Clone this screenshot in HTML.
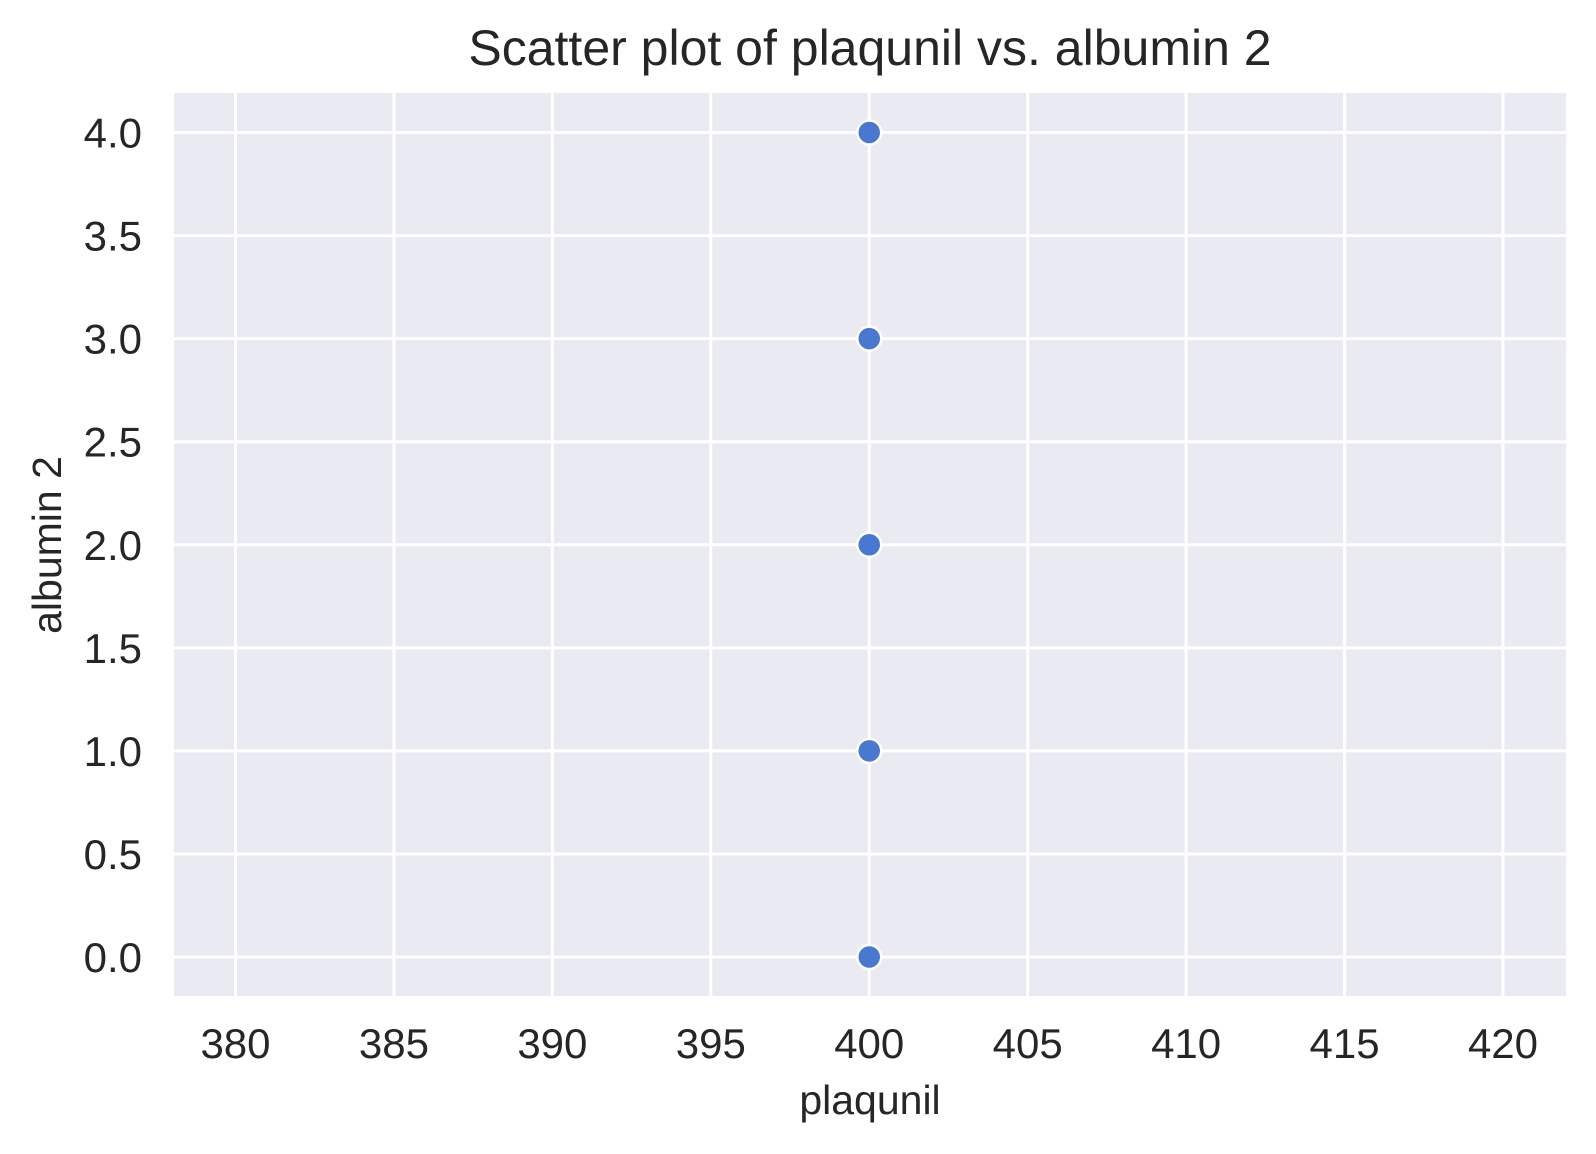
<!DOCTYPE html>
<html><head><meta charset="utf-8"><style>
html,body{margin:0;padding:0;background:#fff;}
svg text{font-family:"Liberation Sans",Arial,sans-serif;fill:#262626;}
</style></head><body>
<svg id="chart" width="1596" height="1149" viewBox="0 0 1596 1149">
<rect x="174" y="93" width="1392" height="903" fill="#eaeaf2"/>
<g id="grid"></g>
<g id="xt"></g>
<g id="yt"></g>
<g id="pts"></g>
<text x="870" y="65" text-anchor="middle" font-size="50">Scatter plot of plaqunil vs. albumin 2</text>
<text x="870" y="1114" text-anchor="middle" font-size="41">plaqunil</text>
<text transform="translate(61,545) rotate(-90)" text-anchor="middle" font-size="41">albumin 2</text>
</svg>
<script>
const xTicks=[380,385,390,395,400,405,410,415,420];
const yTicks=[0,0.5,1,1.5,2,2.5,3,3.5,4];
const yTickLabels=["0.0","0.5","1.0","1.5","2.0","2.5","3.0","3.5","4.0"];
const xVals=[400,400,400,400,400];
const yVals=[4,3,2,1,0];
const NS="http://www.w3.org/2000/svg";
function sx(v){return 235.5+(v-380)*(1503-235.5)/40;}
function sy(v){return 957-v*(957-132.5)/4;}
function mk(t,a,p){const e=document.createElementNS(NS,t);for(const k in a)e.setAttribute(k,a[k]);p.appendChild(e);return e;}
const g=document.getElementById('grid'),xt=document.getElementById('xt'),yt=document.getElementById('yt'),pts=document.getElementById('pts');
xTicks.forEach(v=>{const l=mk('line',{x1:sx(v),x2:sx(v),y1:93,y2:996,stroke:'#fff','stroke-width':3},g);


const t=mk('text',{x:sx(v),y:1058,'text-anchor':'middle','font-size':42},xt);t.textContent=v;

});
yTicks.forEach((v,i)=>{const l=mk('line',{x1:174,x2:1566,y1:sy(v),y2:sy(v),stroke:'#fff','stroke-width':3},g);


const t=mk('text',{x:142,y:sy(v)+15,'text-anchor':'end','font-size':42},yt);t.textContent=yTickLabels[i];

});
xVals.forEach((v,i)=>{const c=mk('circle',{cx:sx(v),cy:sy(yVals[i]),r:12,fill:'#4878d0',stroke:'#fff','stroke-width':2.5},pts);

});
</script>
</body></html>
